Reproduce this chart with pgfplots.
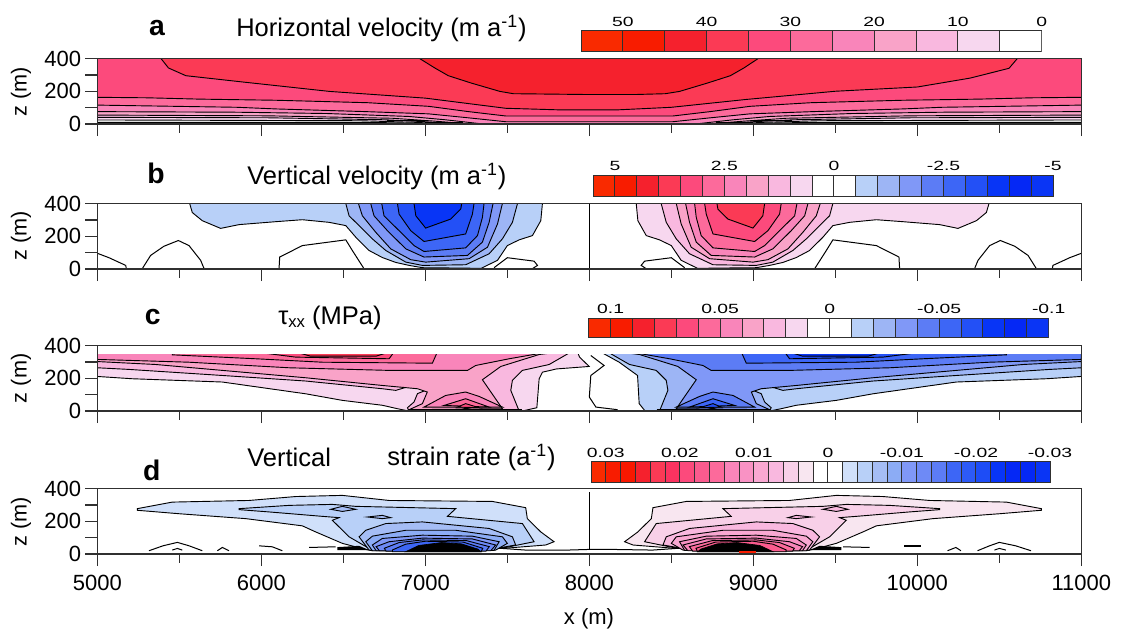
\documentclass[border=0pt]{standalone}
\usepackage{pgfplots}
\pgfplotsset{compat=1.18}
\usepackage{fontspec}
\setmainfont{Liberation Sans}
\definecolor{r1}{HTML}{F92A00}\definecolor{r2}{HTML}{F81C00}\definecolor{r3}{HTML}{F5212D}\definecolor{r4}{HTML}{FB3A55}
\definecolor{r5}{HTML}{FC4A7C}\definecolor{r6}{HTML}{FC6A9B}\definecolor{r7}{HTML}{F985BA}\definecolor{r8}{HTML}{F9A3C8}
\definecolor{r9}{HTML}{F9B8DF}\definecolor{r10}{HTML}{F7D7EF}
\definecolor{b1}{HTML}{B8D0F8}\definecolor{b2}{HTML}{9DB5F5}\definecolor{b3}{HTML}{8098F7}\definecolor{b4}{HTML}{5C7CF5}
\definecolor{b5}{HTML}{3D66F6}\definecolor{b6}{HTML}{2350F6}\definecolor{b7}{HTML}{0835F6}\definecolor{b8}{HTML}{0528F5}\definecolor{b9}{HTML}{0A35F5}
\definecolor{e1}{HTML}{F81800}\definecolor{e2}{HTML}{FB3360}\definecolor{e3}{HTML}{FA5B8E}\definecolor{e4}{HTML}{F992C4}
\definecolor{e5}{HTML}{F9A8D2}\definecolor{e6}{HTML}{F8D0E8}\definecolor{e7}{HTML}{F8E6F0}
\definecolor{f1}{HTML}{D0E0FA}\definecolor{f2}{HTML}{A5BDF5}\definecolor{f3}{HTML}{8CACF5}\definecolor{f4}{HTML}{6E8AF6}
\definecolor{f5}{HTML}{2D5AF6}\definecolor{f6}{HTML}{1E4DF6}
\definecolor{axc}{HTML}{303030}\definecolor{cbl}{HTML}{303030}
\newcommand\cell[3]{\addplot[fill=#3,draw=cbl,line width=.6pt] coordinates {(#1,0)(#2,0)(#2,1)(#1,1)} --cycle;}
\newcommand\cb[1]{\scalebox{1.45}[1]{#1}}
\pgfplotsset{
 panel/.style={scale only axis,width=590.4pt,height=39.3pt,xmin=5000,xmax=11000,ymin=0,ymax=400,
  scaled x ticks=false,xtick pos=lower,ytick pos=left,
  xtick={5000,6000,7000,8000,9000,10000,11000},minor xtick={5500,6500,7500,8500,9500,10500},
  ytick={0,100,200,300,400},yticklabels={0,,200,,400},xticklabels={},
  tick align=outside,major tick length=7.2pt,minor tick length=5.2pt,
  axis line style={draw=axc,line width=.75pt},tick style={draw=axc,line width=.75pt},
  minor tick style={draw=axc,line width=.75pt},
  ticklabel style={font=\fontsize{13.2}{14}\selectfont},
  yticklabel style={xshift=1pt},
  anchor=south west,axis on top=true},
 cbar/.style={scale only axis,ymin=0,ymax=1,ytick=\empty,xticklabel pos=upper,scaled x ticks=false,
  major tick length=0pt,tick style={draw=none},anchor=south west,
  axis line style={draw=cbl,line width=.6pt},
  xticklabel style={font=\fontsize{8}{9}\selectfont,yshift=-1pt}},
 lv/.style={fill=#1,draw=black,line width=.55pt},
 ln/.style={draw=black,line width=.6pt,no markers},
 th/.style={draw=black,line width=1.3pt,no markers}
}
\begin{document}
\begin{tikzpicture}
\path[use as bounding box] (0,0) rectangle (685.8pt,-378pt);
% ---------- a
\begin{axis}[panel,at={(58.4pt,-74.4pt)}]
\addplot[fill=r5,draw=none] coordinates {(5000,0)(11000,0)(11000,400)(5000,400)} --cycle;
\addplot[lv=r4] coordinates {(5388,400)(5434,342)(5540,295)(5855,260)(6416,199)(7000,158)(7490,96)(7829,86)(8164,86)(8500,102)(8957,150)(9500,200)(10000,226)(10320,280)(10559,340)(10610,400)} --cycle;
\addplot[lv=r3] coordinates {(6965,400)(7058,342)(7140,295)(7280,250)(7455,199)(7537,185)(8000,180)(8277,180)(8463,185)(8550,199)(8720,250)(8860,295)(8942,342)(9030,400)} --cycle;
\addplot[lv=r6] coordinates {(4900,164)(5305,160)(5620,152)(6090,145)(6650,130)(7020,108)(7260,76)(7490,49)(8510,49)(8740,76)(8980,108)(9350,130)(9910,145)(10380,152)(10695,160)(11100,164)(11100,-50)(4900,-50)} --cycle;
\addplot[lv=r7] coordinates {(4900,117)(5855,102)(6090,92)(6626,76)(7020,62)(7260,38)(7490,14)(8510,14)(8740,38)(8980,62)(9374,76)(9910,92)(10145,102)(11100,117)(11100,-50)(4900,-50)} --cycle;
\addplot[lv=r8] coordinates {(4900,76)(5850,72)(6400,64)(6900,46)(7120,26)(7327,3)(8673,3)(8880,26)(9100,46)(9600,64)(10150,72)(11100,76)(11100,-50)(4900,-50)} --cycle;
\addplot[lv=r9] coordinates {(4900,55)(6040,50)(6800,35)(7050,18)(7250,2)(8750,2)(8950,18)(9200,35)(9960,50)(11100,55)(11100,-50)(4900,-50)} --cycle;
\addplot[lv=r10] coordinates {(4900,41)(6040,38)(6750,26)(7000,14)(7170,1)(8830,1)(9000,14)(9250,26)(9960,38)(11100,41)(11100,-50)(4900,-50)} --cycle;
\addplot[lv=white] coordinates {(4900,25)(6600,20)(6950,10)(7090,1)(8910,1)(9050,10)(9400,20)(11100,25)(11100,-50)(4900,-50)} --cycle;
\addplot[ln] coordinates {(5000,10)(6600,10)(6950,5)};
\addplot[ln] coordinates {(9050,5)(9400,10)(11000,10)};
\addplot[line width=.9pt,black] coordinates {(6766,20)(7000,20)};
\addplot[line width=.9pt,black] coordinates {(9000,20)(9234,20)};
\addplot[line width=.9pt,black] coordinates {(7000,5)(7230,5)};
\addplot[line width=.9pt,black] coordinates {(8770,5)(9000,5)};
\end{axis}
% ---------- b
\begin{axis}[panel,at={(58.4pt,-161.4pt)}]
\addplot[lv=b1] coordinates {(5563,400)(5579,345)(5640,295)(5752,248)(5864,271)(6088,289)(6250,301)(6413,285)(6515,265)(6576,194)(6657,113)(6738,70)(6820,40)(6901,22)(6982,8)(7185,6)(7340,4)(7440,53)(7500,143)(7572,178)(7653,204)(7704,295)(7714,400)} --cycle;
\addplot[lv=b2] coordinates {(6515,400)(6535,325)(6596,265)(6677,184)(6759,113)(6881,42)(6982,22)(7246,26)(7389,93)(7470,184)(7531,285)(7562,400)} --cycle;
\addplot[lv=b3] coordinates {(6592,400)(6616,325)(6698,224)(6789,123)(6911,57)(7002,42)(7267,63)(7379,133)(7440,275)(7470,400)} --cycle;
\addplot[lv=b4] coordinates {(6667,400)(6687,325)(6769,234)(6881,123)(6992,73)(7257,83)(7348,164)(7389,285)(7413,400)} --cycle;
\addplot[lv=b5] coordinates {(6734,400)(6748,325)(6840,234)(6931,143)(6992,107)(7246,129)(7318,204)(7348,315)(7358,400)} --cycle;
\addplot[lv=b6] coordinates {(6830,400)(6840,335)(6911,234)(6992,168)(7246,214)(7287,335)(7297,400)} --cycle;
\addplot[lv=b7] coordinates {(6931,400)(6942,325)(7002,250)(7155,305)(7216,366)(7222,400)} --cycle;
\addplot[lv=r10] coordinates {(10437,400)(10421,345)(10360,295)(10248,248)(10136,271)(9912,289)(9750,301)(9587,285)(9485,265)(9424,194)(9343,113)(9262,70)(9180,40)(9099,22)(9018,8)(8815,6)(8660,4)(8560,53)(8500,143)(8428,178)(8347,204)(8296,295)(8286,400)} --cycle;
\addplot[lv=r9] coordinates {(9485,400)(9465,325)(9404,265)(9323,184)(9241,113)(9119,42)(9018,22)(8754,26)(8611,93)(8530,184)(8469,285)(8438,400)} --cycle;
\addplot[lv=r8] coordinates {(9408,400)(9384,325)(9302,224)(9211,123)(9089,57)(8998,42)(8733,63)(8621,133)(8560,275)(8530,400)} --cycle;
\addplot[lv=r7] coordinates {(9333,400)(9313,325)(9231,234)(9119,123)(9008,73)(8743,83)(8652,164)(8611,285)(8587,400)} --cycle;
\addplot[lv=r6] coordinates {(9266,400)(9252,325)(9160,234)(9069,143)(9008,107)(8754,129)(8682,204)(8652,315)(8642,400)} --cycle;
\addplot[lv=r5] coordinates {(9170,400)(9160,335)(9089,234)(9008,168)(8754,214)(8713,335)(8703,400)} --cycle;
\addplot[lv=r4] coordinates {(9069,400)(9058,325)(8998,250)(8845,305)(8784,366)(8778,400)} --cycle;
\addplot[ln] coordinates {(5000,96)(5071,69)(5173,22)(5177,2)};
\addplot[ln] coordinates {(5274,2)(5325,83)(5406,139)(5494,174)(5559,143)(5630,53)(5651,2)};
\addplot[ln] coordinates {(6108,2)(6112,73)(6250,143)(6515,178)(6555,113)(6626,2)};
\addplot[ln] coordinates {(7419,8)(7500,69)(7663,48)(7684,22)(7653,2)};
\addplot[ln] coordinates {(11000,96)(10929,69)(10827,22)(10823,2)};
\addplot[ln] coordinates {(10726,2)(10675,83)(10594,139)(10506,174)(10441,143)(10370,53)(10349,2)};
\addplot[ln] coordinates {(9892,2)(9888,73)(9750,143)(9485,178)(9445,113)(9374,2)};
\addplot[ln] coordinates {(8581,8)(8500,69)(8337,48)(8316,22)(8347,2)};
\addplot[ln] coordinates {(8000,0)(8000,400)};
\end{axis}
% ---------- c
\begin{axis}[panel,at={(58.4pt,-246.6pt)}]
\addplot[lv=r10] coordinates {(5000,360)(5000,211)(5213,197)(5762,177)(6271,105)(6494,65)(6738,35)(6830,14)(6900,0)(7590,0)(7680,20)(7694,197)(7714,237)(7800,257)(7999,272)(7940,330)(7928,360)} --cycle;
\addplot[lv=r9] coordinates {(5000,360)(5000,264)(5193,254)(5762,217)(6271,183)(6738,136)(6820,126)(6952,166)(7002,126)(6952,106)(6931,55)(6891,20)(6901,0)(7572,0)(7521,126)(7531,187)(7592,248)(7755,284)(7887,360)} --cycle;
\addplot[lv=r8] coordinates {(5000,360)(5000,302)(5356,284)(5762,248)(6271,203)(6738,156)(6952,136)(7012,116)(6982,45)(6901,8)(7470,14)(7348,191)(7460,272)(7694,345)(7816,360)} --cycle;
\addplot[lv=r7] coordinates {(5000,360)(5000,315)(5559,298)(6169,264)(6779,248)(7257,248)(7307,278)(7511,319)(7745,360)} --cycle;
\addplot[lv=r6] coordinates {(5457,360)(5457,343)(5966,319)(6372,298)(7043,292)(7073,360)} --cycle;
\addplot[lv=r5] coordinates {(5966,360)(6210,329)(6779,319)(6809,360)} --cycle;
\addplot[lv=r4] coordinates {(6210,360)(6300,335)(6700,335)(6780,360)} --cycle;
\addplot[lv=r7] coordinates {(6992,24)(7124,95)(7246,116)(7328,89)(7470,24)} --cycle;
\addplot[lv=r6] coordinates {(7114,34)(7246,75)(7389,24)} --cycle;
\addplot[lv=r5] coordinates {(7195,24)(7246,45)(7328,20)} --cycle;
\addplot[lv=b1] coordinates {(11000,360)(11000,211)(10787,197)(10238,177)(9729,105)(9506,65)(9262,35)(9170,14)(9100,0)(8340,0)(8324,20)(8304,45)(8294,217)(8182,298)(8070,360)} --cycle;
\addplot[lv=b2] coordinates {(11000,360)(11000,264)(10807,254)(10238,217)(9729,183)(9262,136)(9180,126)(9048,166)(8998,126)(9048,106)(9069,55)(9109,20)(9099,0)(8428,0)(8479,126)(8469,187)(8408,248)(8245,284)(8113,360)} --cycle;
\addplot[lv=b3] coordinates {(11000,360)(11000,302)(10644,284)(10238,248)(9729,203)(9262,156)(9048,136)(8988,116)(9018,45)(9099,8)(8530,14)(8652,191)(8540,272)(8306,345)(8184,360)} --cycle;
\addplot[lv=b4] coordinates {(11000,360)(11000,315)(10441,298)(9831,264)(9221,248)(8743,248)(8693,278)(8489,319)(8255,360)} --cycle;
\addplot[lv=b5] coordinates {(10543,360)(10543,343)(10034,319)(9628,298)(8957,292)(8927,360)} --cycle;
\addplot[lv=b6] coordinates {(10034,360)(9790,329)(9221,319)(9191,360)} --cycle;
\addplot[lv=b7] coordinates {(9790,360)(9700,335)(9300,335)(9220,360)} --cycle;
\addplot[lv=b4] coordinates {(9008,24)(8876,95)(8754,116)(8672,89)(8530,24)} --cycle;
\addplot[lv=b5] coordinates {(8886,34)(8754,75)(8611,24)} --cycle;
\addplot[lv=b6] coordinates {(8805,24)(8754,45)(8672,20)} --cycle;
% white strip above the ice surface
\addplot[fill=white,draw=none] coordinates {(5000,349)(11000,349)(11000,410)(5000,410)} --cycle;
\addplot[ln] coordinates {(8009,339)(8090,278)(8009,217)(8000,85)(8040,24)(8172,8)};
\addplot[th] coordinates {(6900,3)(7590,3)};
\addplot[th] coordinates {(8410,3)(9100,3)};
\addplot[fill=black,draw=none] coordinates {(7195,4)(7246,20)(7328,4)} --cycle;
\addplot[fill=black,draw=none] coordinates {(8805,4)(8754,20)(8672,4)} --cycle;
\end{axis}
% ---------- d
\begin{axis}[panel,at={(58.4pt,-332.4pt)},xticklabels={5000,6000,7000,8000,9000,10000,11000},xticklabel style={yshift=-2pt}]
\addplot[lv=f1] coordinates {(5244,277)(5457,317)(5925,327)(6210,351)(6494,358)(6779,327)(7409,321)(7612,283)(7622,216)(7704,135)(7785,75)(7734,55)(7470,34)(6900,20)(6677,20)(6636,28)(6494,65)(6331,135)(6250,172)(5905,216)(5498,246)(5244,267)} --cycle;
\addplot[lv=b1] coordinates {(5864,277)(6169,297)(6433,303)(6576,291)(7185,277)(7135,230)(7592,186)(7663,75)(7490,40)(7000,25)(6657,34)(6535,105)(6433,206)(6474,222)(6372,230)(6047,257)(5864,271)} --cycle;
\addplot[lv=f2] coordinates {(6596,105)(6637,145)(6759,186)(6982,196)(7389,156)(7531,105)(7551,55)(7430,34)(6657,24)} --cycle;
\addplot[lv=f3] coordinates {(6637,75)(6677,109)(6881,145)(7185,145)(7470,105)(7500,65)(7429,24)(6677,20)} --cycle;
\addplot[lv=b3] coordinates {(6677,55)(6738,95)(6982,115)(7287,109)(7450,75)(7419,22)(6700,20)} --cycle;
\addplot[lv=f4] coordinates {(6700,45)(6779,75)(6982,97)(7287,92)(7429,55)(7399,20)(6720,20)} --cycle;
\addplot[lv=b4] coordinates {(6750,35)(6840,70)(6982,86)(7250,82)(7390,45)(7370,18)(6760,18)} --cycle;
\addplot[lv=b5] coordinates {(6800,25)(6880,60)(7000,78)(7230,73)(7350,35)(7340,14)(6800,14)} --cycle;
\addplot[fill=black,draw=black] coordinates {(6880,14)(6960,52)(7100,70)(7220,62)(7320,30)(7340,14)} --cycle;
\addplot[lv=f2] coordinates {(6423,273)(6494,291)(6576,273)(6494,260)} --cycle;
\addplot[lv=f2] coordinates {(6647,226)(6738,236)(6789,222)(6738,216)} --cycle;
\addplot[fill=black,draw=none] coordinates {(6463,42)(6596,50)(6657,24)(6463,24)} --cycle;
\addplot[lv=e7] coordinates {(10756,277)(10543,317)(10075,327)(9790,351)(9506,358)(9221,327)(8591,321)(8388,283)(8378,216)(8296,135)(8215,75)(8266,55)(8530,34)(9100,20)(9323,20)(9364,28)(9506,65)(9669,135)(9750,172)(10095,216)(10502,246)(10756,267)} --cycle;
\addplot[lv=e6] coordinates {(10136,277)(9831,297)(9567,303)(9424,291)(8815,277)(8865,230)(8408,186)(8337,75)(8510,40)(9000,25)(9343,34)(9465,105)(9567,206)(9526,222)(9628,230)(9953,257)(10136,271)} --cycle;
\addplot[lv=r9] coordinates {(9404,105)(9363,145)(9241,186)(9018,196)(8611,156)(8469,105)(8449,55)(8570,34)(9343,24)} --cycle;
\addplot[lv=e5] coordinates {(9363,75)(9323,109)(9119,145)(8815,145)(8530,105)(8500,65)(8571,24)(9323,20)} --cycle;
\addplot[lv=e4] coordinates {(9323,55)(9262,95)(9018,115)(8713,109)(8550,75)(8581,22)(9300,20)} --cycle;
\addplot[lv=r7] coordinates {(9300,45)(9221,75)(9018,97)(8713,92)(8571,55)(8601,20)(9280,20)} --cycle;
\addplot[lv=r6] coordinates {(9250,35)(9160,70)(9018,86)(8750,82)(8610,45)(8630,18)(9240,18)} --cycle;
\addplot[lv=e3] coordinates {(9200,25)(9120,60)(9000,78)(8770,73)(8650,35)(8660,14)(9200,14)} --cycle;
\addplot[fill=black,draw=black] coordinates {(9120,14)(9040,52)(8900,70)(8780,62)(8680,30)(8660,14)} --cycle;
\addplot[fill=r2,draw=none] coordinates {(8914,2)(9015,2)(9015,16)(8914,16)} --cycle;
\addplot[lv=r9] coordinates {(9577,273)(9506,291)(9424,273)(9506,260)} --cycle;
\addplot[lv=r9] coordinates {(9353,226)(9262,236)(9211,222)(9262,216)} --cycle;
\addplot[fill=black,draw=none] coordinates {(9537,42)(9404,50)(9343,24)(9537,24)} --cycle;
\addplot[ln] coordinates {(5315,20)(5400,50)(5488,71)(5560,50)(5640,20)};
\addplot[ln] coordinates {(5457,24)(5488,34)(5518,24)};
\addplot[ln] coordinates {(5732,20)(5762,40)(5803,20)};
\addplot[ln] coordinates {(5986,50)(6067,44)(6128,20)};
\addplot[ln] coordinates {(6291,40)(6453,44)};
\addplot[ln] coordinates {(7470,34)(7612,24)(7867,24)(8000,28)(8141,28)(8385,24)(8530,34)};
\addplot[ln] coordinates {(9547,44)(9709,40)};
\addplot[th] coordinates {(9920,50)(10022,50)};
\addplot[ln] coordinates {(10184,20)(10235,40)(10266,20)};
\addplot[ln] coordinates {(10367,20)(10440,50)(10500,71)(10600,50)(10693,20)};
\addplot[ln] coordinates {(10470,24)(10500,34)(10540,24)};
\addplot[ln] coordinates {(8000,24)(8000,378)};
\end{axis}
% ---------- colour bars
\begin{axis}[cbar,at={(348.6pt,-31pt)},width=276.4pt,height=12.6pt,xmin=0,xmax=11,xtick={1,3,5,7,9,11},xticklabels={\cb{50},\cb{40},\cb{30},\cb{20},\cb{10},\cb{0}}]
\cell{0}{1}{r1}\cell{1}{2}{r2}\cell{2}{3}{r3}\cell{3}{4}{r4}\cell{4}{5}{r5}\cell{5}{6}{r6}\cell{6}{7}{r7}\cell{7}{8}{r8}\cell{8}{9}{r9}\cell{9}{10}{r10}\cell{10}{11}{white}
\end{axis}
\begin{axis}[cbar,at={(355.8pt,-117.6pt)},width=276pt,height=12.6pt,xmin=0,xmax=21,xtick={1,6,11,16,21},xticklabels={\cb{5},\cb{2.5},\cb{0},\cb{-2.5},\cb{-5}}]
\cell{0}{1}{r1}\cell{1}{2}{r2}\cell{2}{3}{r3}\cell{3}{4}{r4}\cell{4}{5}{r5}\cell{5}{6}{r6}\cell{6}{7}{r7}\cell{7}{8}{r8}\cell{8}{9}{r9}\cell{9}{10}{r10}\cell{10}{11}{white}\cell{11}{12}{white}\cell{12}{13}{b1}\cell{13}{14}{b2}\cell{14}{15}{b3}\cell{15}{16}{b4}\cell{16}{17}{b5}\cell{17}{18}{b6}\cell{18}{19}{b7}\cell{19}{20}{b8}\cell{20}{21}{b9}
\end{axis}
\begin{axis}[cbar,at={(353.2pt,-202.6pt)},width=276pt,height=11.8pt,xmin=0,xmax=21,xtick={1,6,11,16,21},xticklabels={\cb{0.1},\cb{0.05},\cb{0},\cb{-0.05},\cb{-0.1}}]
\cell{0}{1}{r1}\cell{1}{2}{r2}\cell{2}{3}{r3}\cell{3}{4}{r4}\cell{4}{5}{r5}\cell{5}{6}{r6}\cell{6}{7}{r7}\cell{7}{8}{r8}\cell{8}{9}{r9}\cell{9}{10}{r10}\cell{10}{11}{white}\cell{11}{12}{white}\cell{12}{13}{b1}\cell{13}{14}{b2}\cell{14}{15}{b3}\cell{15}{16}{b4}\cell{16}{17}{b5}\cell{17}{18}{b6}\cell{18}{19}{b7}\cell{19}{20}{b8}\cell{20}{21}{b9}
\end{axis}
\begin{axis}[cbar,at={(354.6pt,-289.2pt)},width=275.4pt,height=12.2pt,xmin=0,xmax=31,xtick={1,6,11,16,21,26,31},xticklabels={\cb{0.03},\cb{0.02},\cb{0.01},\cb{0},\cb{-0.01},\cb{-0.02},\cb{-0.03}}]
\cell{0}{1}{r1}\cell{1}{2}{r2}\cell{2}{3}{e1}\cell{3}{4}{r3}\cell{4}{5}{r4}\cell{5}{6}{e2}\cell{6}{7}{r5}\cell{7}{8}{e3}\cell{8}{9}{r6}\cell{9}{10}{r7}\cell{10}{11}{e4}\cell{11}{12}{e5}\cell{12}{13}{r9}\cell{13}{14}{e6}\cell{14}{15}{e7}\cell{15}{16}{white}\cell{16}{17}{white}\cell{17}{18}{f1}\cell{18}{19}{b1}\cell{19}{20}{f2}\cell{20}{21}{f3}\cell{21}{22}{b3}\cell{22}{23}{f4}\cell{23}{24}{b4}\cell{24}{25}{b5}\cell{25}{26}{f5}\cell{26}{27}{f6}\cell{27}{28}{b7}\cell{28}{29}{b8}\cell{29}{30}{b8}\cell{30}{31}{b9}
\end{axis}
% ---------- text
\def\T{\fontsize{15.3}{17}\selectfont}
\def\L{\fontsize{17}{19}\selectfont\bfseries}
\node[font=\L] at (94.2pt,-16.8pt) {a};
\node[font=\L] at (93.6pt,-104pt) {b};
\node[font=\L] at (91.6pt,-190.4pt) {c};
\node[font=\L] at (91pt,-282pt) {d};
\node[font=\T,anchor=west,inner sep=0pt] at (141.6pt,-17pt) {Horizontal velocity (m a\textsuperscript{-1})};
\node[font=\T,anchor=west,inner sep=0pt] at (148.2pt,-106pt) {Vertical velocity (m a\textsuperscript{-1})};
\node[font=\T,anchor=west,inner sep=0pt] at (166.8pt,-191pt) {τ\raisebox{-1.5pt}{\fontsize{10}{11}\selectfont xx} (MPa)};
\node[font=\T,anchor=west,inner sep=0pt] at (148.2pt,-274.4pt) {Vertical};
\node[font=\T,anchor=west,inner sep=0pt] at (232.2pt,-274.4pt) {strain rate (a\textsuperscript{-1})};
\node[font=\fontsize{13}{14}\selectfont,rotate=90] at (12.6pt,-55pt) {z (m)};
\node[font=\fontsize{13}{14}\selectfont,rotate=90] at (12.6pt,-141.6pt) {z (m)};
\node[font=\fontsize{13}{14}\selectfont,rotate=90] at (12.6pt,-227pt) {z (m)};
\node[font=\fontsize{13}{14}\selectfont,rotate=90] at (12.6pt,-313pt) {z (m)};
\node[font=\fontsize{13.2}{14}\selectfont] at (353.4pt,-371.5pt) {x (m)};
\end{tikzpicture}
\end{document}
